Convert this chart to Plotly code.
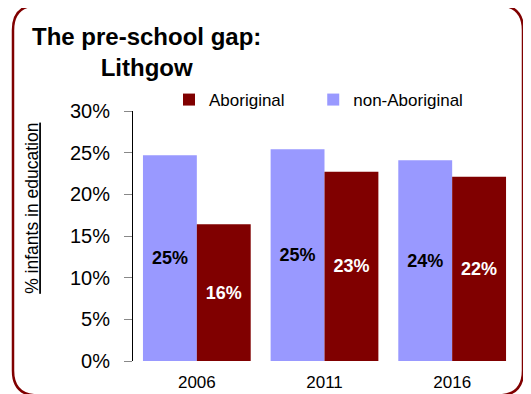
import plotly.graph_objects as go

years = ["2006", "2011", "2016"]
non_aboriginal = [24.7, 25.4, 24.1]
aboriginal = [16.4, 22.7, 22.1]
non_ab_labels = ["25%", "25%", "24%"]
ab_labels = ["16%", "23%", "22%"]
y_ticks = [0, 5, 10, 15, 20, 25, 30]
y_tick_labels = ["0%", "5%", "10%", "15%", "20%", "25%", "30%"]

# page body has an 8px default margin: work in screen coords, shift by OFF
OFF = 8
W, H = 531 - OFF, 394 - OFF
L, R, T, B = 133 - OFF, 516 - OFF, 111 - OFF, 361.5 - OFF
FONT = "Liberation Sans, Arial, sans-serif"

fig = go.Figure()
fig.add_trace(go.Bar(
    x=years, y=non_aboriginal, name="non-Aboriginal",
    marker=dict(color="#9999FF", line=dict(width=0)),
    text=non_ab_labels, textposition="inside", insidetextanchor="middle",
    textfont=dict(family=FONT, size=18, color="black", weight="bold"),
    textangle=0, legendrank=2,
))
fig.add_trace(go.Bar(
    x=years, y=aboriginal, name="Aboriginal" + "\u00a0" * 5,
    marker=dict(color="#800000", line=dict(width=0)),
    text=ab_labels, textposition="inside", insidetextanchor="middle",
    textfont=dict(family=FONT, size=18, color="white", weight="bold"),
    textangle=0, legendrank=1,
))

def px(x):
    return (x - OFF - L) / (R - L)

def py(y):
    return (B - (y - OFF)) / (B - T)

# rounded border (screen coords)
x0, x1, y0, y1, r = 13, 523, 5, 396, 25
pts = [
    ("M", [(x0 + r, y0)]),
    ("L", [(x1 - r, y0)]),
    ("Q", [(x1, y0), (x1, y0 + r)]),
    ("L", [(x1, y1 - r)]),
    ("Q", [(x1, y1), (x1 - r, y1)]),
    ("L", [(x0 + r, y1)]),
    ("Q", [(x0, y1), (x0, y1 - r)]),
    ("L", [(x0, y0 + r)]),
    ("Q", [(x0, y0), (x0 + r, y0)]),
]
path = ""
for cmd, ps in pts:
    path += cmd + " " + " ".join(f"{px(a):.5f},{py(b):.5f}" for a, b in ps) + " "
path += "Z"
fig.add_shape(type="path", path=path, xref="paper", yref="paper",
              line=dict(color="#800000", width=2.5), layer="above")

fig.add_annotation(
    text="<b>The pre-school gap:</b><br><b>Lithgow</b>",
    xref="paper", yref="paper", x=px(146), y=py(52),
    xanchor="center", yanchor="middle", align="center", showarrow=False,
    font=dict(family=FONT, size=24, color="black"),
)
fig.add_annotation(
    text="<u>% infants in education</u>",
    xref="paper", yref="paper", x=px(32), y=py(209), textangle=-90,
    xanchor="center", yanchor="middle", showarrow=False,
    font=dict(family=FONT, size=17.5, color="black"),
)

fig.update_layout(
    width=W, height=H,
    margin=dict(l=L, r=W - R, t=T, b=H - B, pad=0, autoexpand=False),
    paper_bgcolor="white", plot_bgcolor="white",
    barmode="group", bargap=0.156, bargroupgap=0,
    font=dict(family=FONT, size=15, color="black"),
    showlegend=True,
    legend=dict(
        orientation="h", x=px(169), y=py(100), xanchor="left", yanchor="middle",
        font=dict(family=FONT, size=17, color="black"),
        itemwidth=30, traceorder="normal",
        bgcolor="rgba(0,0,0,0)",
    ),
    xaxis=dict(
        showline=False, ticks="", showgrid=False, automargin=False,
        tickfont=dict(family=FONT, size=17, color="black"),
        ticklabelstandoff=9,
    ),
    yaxis=dict(
        range=[0, 30], tickvals=y_ticks, ticktext=y_tick_labels,
        showline=True, linecolor="black", linewidth=1, automargin=False,
        ticks="outside", ticklen=8, tickcolor="#888888",
        showgrid=False, zeroline=False,
        tickfont=dict(family=FONT, size=20, color="black"),
        ticklabelstandoff=10,
    ),
)

fig.write_html("out.html")
